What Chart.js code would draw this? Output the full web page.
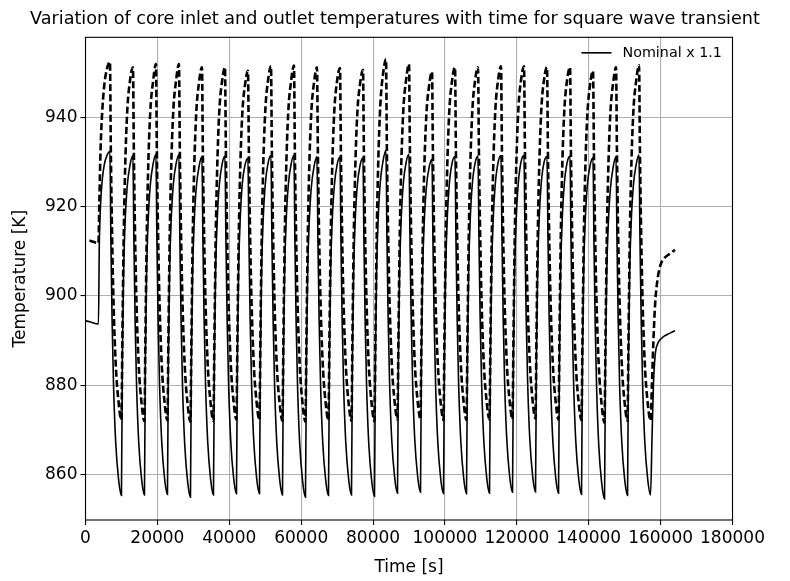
<!DOCTYPE html>
<html>
<head>
<meta charset="utf-8">
<script src="https://cdn.jsdelivr.net/npm/chart.js@4"></script>
<style>
  html, body { margin: 0; padding: 0; background: #fff; }
  canvas { display: block; }
</style>
</head>
<body>
<canvas id="chart" width="790" height="581"></canvas>
<script>
// time [s]: start, first rise, then one row per square wave cycle (peak, fall, trough, rise), then the tail
const timeS = [
  0, 1100, 3600, 3850, 4200, 4600, 5200, 6000,
  6800, 7050, 7400, 7800, 8400, 9200, 10000, 10250, 10600, 11000, 11600, 12400,
  13200, 13450, 13800, 14200, 14800, 15600, 16400, 16650, 17000, 17400, 18000, 18800,
  19600, 19850, 20200, 20600, 21200, 22000, 22800, 23050, 23400, 23800, 24400, 25200,
  26000, 26250, 26600, 27000, 27600, 28400, 29200, 29450, 29800, 30200, 30800, 31600,
  32400, 32650, 33000, 33400, 34000, 34800, 35600, 35850, 36200, 36600, 37200, 38000,
  38800, 39050, 39400, 39800, 40400, 41200, 42000, 42250, 42600, 43000, 43600, 44400,
  45200, 45450, 45800, 46200, 46800, 47600, 48400, 48650, 49000, 49400, 50000, 50800,
  51600, 51850, 52200, 52600, 53200, 54000, 54800, 55050, 55400, 55800, 56400, 57200,
  58000, 58250, 58600, 59000, 59600, 60400, 61200, 61450, 61800, 62200, 62800, 63600,
  64400, 64650, 65000, 65400, 66000, 66800, 67600, 67850, 68200, 68600, 69200, 70000,
  70800, 71050, 71400, 71800, 72400, 73200, 74000, 74250, 74600, 75000, 75600, 76400,
  77200, 77450, 77800, 78200, 78800, 79600, 80400, 80650, 81000, 81400, 82000, 82800,
  83600, 83850, 84200, 84600, 85200, 86000, 86800, 87050, 87400, 87800, 88400, 89200,
  90000, 90250, 90600, 91000, 91600, 92400, 93200, 93450, 93800, 94200, 94800, 95600,
  96400, 96650, 97000, 97400, 98000, 98800, 99600, 99850, 100200, 100600, 101200, 102000,
  102800, 103050, 103400, 103800, 104400, 105200, 106000, 106250, 106600, 107000, 107600, 108400,
  109200, 109450, 109800, 110200, 110800, 111600, 112400, 112650, 113000, 113400, 114000, 114800,
  115600, 115850, 116200, 116600, 117200, 118000, 118800, 119050, 119400, 119800, 120400, 121200,
  122000, 122250, 122600, 123000, 123600, 124400, 125200, 125450, 125800, 126200, 126800, 127600,
  128400, 128650, 129000, 129400, 130000, 130800, 131600, 131850, 132200, 132600, 133200, 134000,
  134800, 135050, 135400, 135800, 136400, 137200, 138000, 138250, 138600, 139000, 139600, 140400,
  141200, 141450, 141800, 142200, 142800, 143600, 144400, 144650, 145000, 145400, 146000, 146800,
  147600, 147850, 148200, 148600, 149200, 150000, 150800, 151050, 151400, 151800, 152400, 153200,
  154000, 154250, 154600, 155000, 155600, 156400, 157200,
  157600, 158000, 158500, 159200, 160000, 161000, 162500, 164000
];

// solid line (legend: Nominal x 1.1)
const coreInlet = [
  894.4, 894.2, 893.7, 912.0, 920.5, 925.5, 929.3, 931.5,
  932.4, 913.1, 894.4, 880.0, 867.2, 858.9, 855.3, 885.7, 905.5, 916.1, 924.5, 929.4,
  931.4, 913.2, 894.5, 880.1, 867.3, 859.0, 855.4, 885.8, 905.6, 916.2, 924.6, 929.5,
  931.7, 913.3, 894.6, 880.2, 867.4, 859.1, 855.5, 885.9, 905.7, 916.3, 924.7, 929.6,
  931.6, 912.7, 894.0, 879.6, 866.8, 858.5, 854.9, 885.3, 905.1, 915.7, 924.1, 929.0,
  931.2, 913.2, 894.5, 880.1, 867.3, 859.0, 855.4, 885.8, 905.6, 916.2, 924.6, 929.5,
  931.3, 913.5, 894.8, 880.4, 867.6, 859.3, 855.7, 886.1, 905.9, 916.5, 924.9, 929.4,
  930.8, 913.5, 894.8, 880.4, 867.6, 859.3, 855.7, 886.1, 905.9, 916.5, 924.9, 929.8,
  931.4, 913.2, 894.5, 880.1, 867.3, 859.0, 855.4, 885.8, 905.6, 916.2, 924.6, 929.5,
  931.5, 912.7, 894.0, 879.6, 866.8, 858.5, 854.9, 885.3, 905.1, 915.7, 924.1, 929.0,
  931.2, 913.1, 894.4, 880.0, 867.2, 858.9, 855.3, 885.7, 905.5, 916.1, 924.5, 929.4,
  931.1, 913.2, 894.5, 880.1, 867.3, 859.0, 855.4, 885.8, 905.6, 916.2, 924.6, 929.3,
  930.9, 912.9, 894.2, 879.8, 867.0, 858.7, 855.1, 886.0, 906.0, 916.8, 925.3, 930.3,
  932.6, 913.6, 894.9, 880.5, 867.7, 859.4, 855.8, 886.2, 906.0, 916.6, 925.0, 929.9,
  931.7, 913.8, 895.1, 880.7, 867.9, 859.6, 856.0, 886.0, 905.5, 915.8, 924.0, 928.8,
  930.6, 913.0, 894.4, 880.1, 867.4, 859.2, 855.7, 886.1, 905.9, 916.5, 924.9, 929.8,
  931.2, 913.5, 894.8, 880.4, 867.6, 859.3, 855.7, 886.1, 905.9, 916.5, 924.9, 929.8,
  931.3, 913.6, 894.9, 880.5, 867.7, 859.4, 855.8, 886.2, 906.0, 916.6, 925.0, 929.9,
  931.4, 913.8, 895.1, 880.7, 867.9, 859.6, 856.0, 886.4, 906.2, 916.8, 925.2, 930.1,
  931.4, 913.9, 895.2, 880.8, 868.0, 859.7, 856.1, 886.5, 906.3, 916.9, 925.3, 930.0,
  931.2, 913.6, 894.9, 880.5, 867.7, 859.4, 855.8, 886.2, 906.0, 916.6, 925.0, 929.9,
  931.3, 913.3, 894.6, 880.2, 867.4, 859.1, 855.5, 885.9, 905.7, 916.3, 924.7, 929.3,
  930.9, 912.3, 893.6, 879.2, 866.4, 858.1, 854.5, 884.9, 904.7, 915.3, 923.7, 928.8,
  931.2, 913.1, 894.4, 880.0, 867.2, 858.9, 855.3, 885.7, 905.5, 916.1, 924.5, 929.4,
  931.6, 913.2, 894.5, 880.1, 867.3, 859.0, 855.4,
  868.0, 880.0, 886.8, 889.3, 890.3, 891.0, 891.6, 892.2
];

// dashed line
const coreOutlet = [
  null, 912.4, 911.8, 921.0, 933.0, 940.5, 947.0, 951.0,
  952.4, 932.5, 913.4, 898.4, 884.9, 876.2, 872.2, 889.6, 911.9, 927.7, 941.2, 948.3,
  951.2, 932.2, 913.1, 898.1, 884.6, 875.9, 871.9, 889.3, 911.6, 927.4, 940.9, 948.0,
  951.9, 932.4, 913.3, 898.3, 884.8, 876.1, 872.1, 889.5, 911.8, 927.6, 941.1, 948.2,
  951.9, 932.1, 913.0, 898.0, 884.5, 875.8, 871.8, 889.2, 911.5, 927.3, 940.8, 947.9,
  951.2, 932.3, 913.2, 898.2, 884.7, 876.0, 872.0, 889.4, 911.7, 927.5, 941.0, 948.1,
  951.2, 932.6, 913.5, 898.5, 885.0, 876.3, 872.3, 889.5, 911.6, 927.2, 940.5, 947.4,
  950.4, 932.5, 913.4, 898.4, 884.9, 876.2, 872.2, 889.6, 911.9, 927.7, 941.2, 948.3,
  951.5, 932.3, 913.2, 898.2, 884.7, 876.0, 872.0, 889.4, 911.7, 927.5, 941.0, 948.1,
  951.6, 932.1, 913.0, 898.0, 884.5, 875.8, 871.8, 889.2, 911.5, 927.3, 940.8, 947.9,
  951.2, 932.4, 913.3, 898.3, 884.8, 876.1, 872.1, 889.5, 911.8, 927.6, 941.1, 948.2,
  951.0, 932.3, 913.2, 898.2, 884.7, 876.0, 872.0, 889.3, 911.5, 927.2, 940.6, 947.6,
  950.6, 932.2, 913.1, 898.1, 884.6, 875.9, 871.9, 889.7, 912.4, 928.6, 942.4, 949.8,
  953.0, 932.6, 913.5, 898.5, 885.0, 876.3, 872.3, 889.7, 912.0, 927.8, 941.3, 948.4,
  951.9, 932.7, 913.6, 898.6, 885.1, 876.4, 872.4, 889.5, 911.4, 926.9, 940.1, 947.1,
  950.2, 932.5, 913.4, 898.4, 884.9, 876.2, 872.2, 889.6, 911.9, 927.7, 941.2, 948.3,
  951.2, 932.5, 913.4, 898.4, 884.9, 876.2, 872.2, 889.6, 911.9, 927.7, 941.2, 948.3,
  951.2, 932.6, 913.5, 898.5, 885.0, 876.3, 872.3, 889.7, 912.0, 927.8, 941.3, 948.4,
  951.4, 932.7, 913.6, 898.6, 885.1, 876.4, 872.4, 889.8, 912.1, 927.9, 941.4, 948.5,
  951.4, 932.8, 913.7, 898.7, 885.2, 876.5, 872.5, 889.9, 912.2, 928.0, 941.5, 948.6,
  951.2, 932.6, 913.5, 898.5, 885.0, 876.3, 872.3, 889.7, 912.0, 927.8, 941.3, 948.4,
  951.2, 932.4, 913.3, 898.3, 884.8, 876.1, 872.1, 889.4, 911.4, 927.0, 940.3, 947.4,
  950.4, 931.9, 912.8, 897.8, 884.3, 875.6, 871.6, 889.0, 911.3, 927.1, 940.6, 947.7,
  951.2, 932.3, 913.2, 898.2, 884.7, 876.0, 872.0, 889.4, 911.7, 927.5, 941.0, 948.1,
  951.7, 932.4, 913.3, 898.3, 884.8, 876.1, 872.1,
  880.5, 890.0, 898.5, 904.0, 907.0, 908.4, 909.4, 910.3
];

const xTicks = [0, 20000, 40000, 60000, 80000, 100000, 120000, 140000, 160000, 180000];
const yTicks = [860, 880, 900, 920, 940];

const toPoints = (ys) => ys.map((y, i) => ({ x: timeS[i], y: y }));

// matplotlib style box around the axes
const frame = {
  id: 'frame',
  afterDatasetsDraw(chart) {
    const { ctx, chartArea: a } = chart;
    ctx.save();
    ctx.strokeStyle = '#000';
    ctx.lineWidth = 1.1;
    ctx.strokeRect(a.left, a.top, a.right - a.left, a.bottom - a.top);
    ctx.restore();
  }
};

// legend inside the top right corner of the axes
const innerLegend = {
  id: 'innerLegend',
  afterDraw(chart) {
    const { ctx, chartArea: a } = chart;
    const ds = chart.data.datasets.filter(d => d.label);
    ctx.save();
    ctx.font = '14.3px "DejaVu Sans"';
    ctx.textBaseline = 'middle';
    ctx.fillStyle = '#000';
    ds.forEach((d, i) => {
      const y = a.top + 15.5 + i * 20;
      const x0 = a.right - 151;
      ctx.strokeStyle = d.borderColor;
      ctx.lineWidth = d.borderWidth;
      ctx.setLineDash(d.borderDash || []);
      ctx.beginPath();
      ctx.moveTo(x0, y);
      ctx.lineTo(x0 + 30, y);
      ctx.stroke();
      ctx.fillText(d.label, x0 + 41, y);
    });
    ctx.restore();
  }
};

Chart.defaults.font.family = '"DejaVu Sans"';
Chart.defaults.color = '#000';

new Chart(document.getElementById('chart'), {
  type: 'line',
  data: {
    datasets: [
      {
        label: 'Nominal x 1.1',
        data: toPoints(coreInlet),
        borderColor: '#000',
        borderWidth: 1.6,
        pointRadius: 0,
        cubicInterpolationMode: 'monotone'
      },
      {
        label: '',
        data: toPoints(coreOutlet),
        borderColor: '#000',
        borderWidth: 2.6,
        borderDash: [7, 3.2],
        pointRadius: 0,
        cubicInterpolationMode: 'monotone'
      }
    ]
  },
  options: {
    responsive: false,
    devicePixelRatio: 1,
    animation: false,
    layout: { padding: 0 },
    plugins: {
      legend: { display: false },
      tooltip: { enabled: false },
      title: {
        display: true,
        text: 'Variation of core inlet and outlet temperatures with time for square wave transient',
        font: { size: 17.6, weight: 'normal' },
        color: '#000',
        padding: { top: 9, bottom: 7.2 }
      }
    },
    scales: {
      x: {
        type: 'linear',
        min: 0,
        max: 180000,
        afterBuildTicks: (s) => { s.ticks = xTicks.map(v => ({ value: v })); },
        afterFit: (s) => { s.height = 61; },
        ticks: { font: { size: 17 }, color: '#000', padding: 3, maxRotation: 0, autoSkip: false, callback: (v) => String(v) },
        grid: { color: '#b0b0b0', lineWidth: 1.1, tickLength: 5, tickColor: '#000', tickWidth: 1.1 },
        border: { display: false },
        title: { display: true, text: 'Time [s]', font: { size: 17 }, color: '#000', padding: { top: 0, bottom: 3 } }
      },
      y: {
        type: 'linear',
        min: 849.8,
        max: 957.9,
        afterBuildTicks: (s) => { s.ticks = yTicks.map(v => ({ value: v })); },
        afterFit: (s) => { s.width = 85.5; },
        ticks: { font: { size: 17 }, color: '#000', padding: 3, autoSkip: false, callback: (v) => String(v) },
        grid: { color: '#b0b0b0', lineWidth: 1.1, tickLength: 5, tickColor: '#000', tickWidth: 1.1 },
        border: { display: false },
        title: { display: true, text: 'Temperature [K]', font: { size: 17 }, color: '#000', padding: { top: 10, bottom: 0 } }
      },
      // empty right-hand strip so the figure margin matches and the title stays centred on the figure
      yRight: {
        type: 'linear',
        position: 'right',
        display: true,
        afterFit: (s) => { s.width = 57.5; },
        ticks: { display: false },
        grid: { display: false, drawTicks: false },
        border: { display: false }
      }
    }
  },
  plugins: [frame, innerLegend]
});
</script>
</body>
</html>
